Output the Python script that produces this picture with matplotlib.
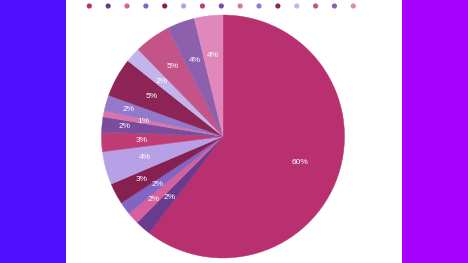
import matplotlib
matplotlib.use("Agg")
import matplotlib.pyplot as plt
from matplotlib.patches import Rectangle
import numpy as np

# data
values = [60.4, 2.1, 1.6, 1.7, 2.8, 4.4, 2.6, 2.0, 0.8, 2.1, 5.2, 2.0, 4.8, 3.7, 3.8]
colors = ["#B83070", "#6A3A8C", "#D6609E", "#8264C4", "#862050", "#B8A0E6",
          "#C03C74", "#7A4C9C", "#DA74AC", "#9478CC", "#8C2456", "#C4B4EC",
          "#C45488", "#8C60AC", "#E088BC"]
label_dist = [0.67, 0.67, 0.77, 0.67, 0.76, 0.67, 0.67, 0.81, 0.665, 0.81,
              0.67, 0.68, 0.71, 0.67, 0.67]

W, H = 468, 263
fig = plt.figure(figsize=(W / 100, H / 100), dpi=100)
fig.patch.set_facecolor("white")

# side bands
fig.patches.append(Rectangle((0, 0), 66 / W, 1, transform=fig.transFigure,
                             facecolor="#5010FF", edgecolor="none", zorder=0))
fig.patches.append(Rectangle((402 / W, 0), 66 / W, 1, transform=fig.transFigure,
                             facecolor="#A600FF", edgecolor="none", zorder=0))

# pie
cx, cy, r = 223.0, 136.5, 121.5
ax = fig.add_axes([(cx - r) / W, (H - cy - r) / H, 2 * r / W, 2 * r / H])
wedges, _ = ax.pie(values, colors=colors, startangle=90, counterclock=False,
                   wedgeprops=dict(linewidth=0.3, antialiased=True))
for w, c in zip(wedges, colors):
    w.set_edgecolor(c)
total = sum(values)
for w, v, d in zip(wedges, values, label_dist):
    ang = np.deg2rad((w.theta1 + w.theta2) / 2)
    ax.text(d * np.cos(ang), d * np.sin(ang), f"{v / total * 100:.0f}%",
            ha="center", va="center", color="white", fontsize=6,
            family=["Liberation Sans", "DejaVu Sans"])
ax.set_xlim(-1, 1)
ax.set_ylim(-1, 1)
ax.set_aspect("auto")
ax.axis("off")

# legend dots
x0, x1 = 89.3, 353.3
lax = fig.add_axes([x0 / W, (H - 9) / H, (x1 - x0) / W, 6 / H])
lax.scatter(np.arange(len(colors)), np.zeros(len(colors)), s=14, c=colors,
            linewidths=0, clip_on=False)
lax.set_xlim(0, len(colors) - 1)
lax.set_ylim(-1, 1)
lax.axis("off")

fig.savefig("out.png", dpi=100)
